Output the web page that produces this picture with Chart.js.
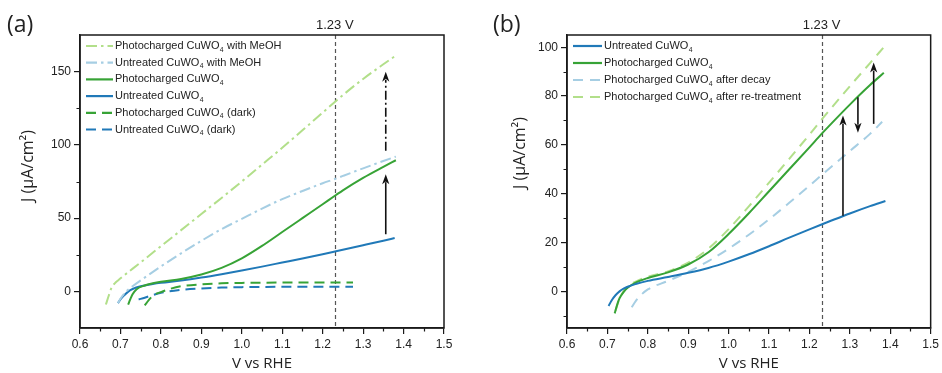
<!DOCTYPE html>
<html><head><meta charset="utf-8">
<script src="https://cdn.jsdelivr.net/npm/chart.js@4/dist/chart.umd.min.js"></script>
<style>
html,body{margin:0;padding:0;background:#fff;}
#wrap{position:relative;width:942px;height:373px;overflow:hidden;}
canvas{position:absolute;top:0;}
#ca{left:0;} #cb{left:471px;}
</style></head><body>
<div id="wrap"><canvas id="ca" width="471" height="373"></canvas><canvas id="cb" width="471" height="373"></canvas></div>
<script>
// ---------- tick labels ----------
const xTicks = [0.6,0.7,0.8,0.9,1.0,1.1,1.2,1.3,1.4,1.5];
const xMinorTicks = [0.65,0.75,0.85,0.95,1.05,1.15,1.25,1.35,1.45];
const yTicksA = [0,50,100,150];
const yMinorTicksA = [25,75,125];
const yTicksB = [0,20,40,60,80,100];
const yMinorTicksB = [-10,10,30,50,70,90];
const refV = 1.23;
const refLabel = '1.23 V';

// ---------- panel (a) ----------
const labelsA = ['Photocharged CuWO₄ with MeOH','Untreated CuWO₄ with MeOH','Photocharged CuWO₄','Untreated CuWO₄','Photocharged CuWO₄ (dark)','Untreated CuWO₄ (dark)'];
const a_pcMeOH_V = [0.664,0.671,0.678,0.686,0.694,0.75,0.80,0.85,0.90,0.95,1.00,1.05,1.10,1.15,1.20,1.233,1.25,1.30,1.35,1.381];
const a_pcMeOH_J = [-9,-3,2.5,5.5,7.5,19.8,30.8,41.8,52.8,63.8,75,86.5,98,110,122,130,134,145,155,161];
const a_unMeOH_V = [0.694,0.70,0.711,0.73,0.75,0.80,0.85,0.90,0.95,1.00,1.05,1.10,1.15,1.20,1.233,1.25,1.30,1.35,1.381];
const a_unMeOH_J = [-8,-5,-1,3.5,7.5,17,26,34.5,42.5,49.5,56.5,63,68.5,73.8,77,78.8,84,89,92];
const a_pc_V = [0.719,0.725,0.73,0.74,0.76,0.78,0.80,0.85,0.90,0.95,1.00,1.05,1.10,1.15,1.20,1.233,1.25,1.30,1.35,1.381];
const a_pc_J = [-9,-5,-2,1.5,4,5.5,6.6,8.5,11.5,16,22.5,31,40.5,50,59.5,65.8,69,77.5,85,89.5];
const a_un_V = [0.694,0.70,0.71,0.72,0.73,0.75,0.78,0.80,0.85,0.90,0.95,1.00,1.05,1.10,1.15,1.20,1.233,1.30,1.35,1.378];
const a_un_J = [-8,-5.5,-2.5,0,1.6,3.5,5,5.8,7.4,9.4,11.7,14.2,16.9,19.7,22.5,25.4,27.4,31.5,34.6,36.4];
const a_pcDark_V = [0.76,0.77,0.78,0.80,0.82,0.85,0.90,0.95,1.00,1.10,1.20,1.275];
const a_pcDark_J = [-9.5,-6,-3,-0.5,1.5,3.5,4.8,5.5,5.8,6,6,6];
const a_unDark_V = [0.745,0.76,0.78,0.80,0.85,0.90,0.95,1.00,1.10,1.20,1.275];
const a_unDark_J = [-5.5,-4.3,-2.5,-1,1,2,2.6,2.9,3.1,3.2,3.2];
const arrowA_V = [1.356,1.356];
const arrowA_from = [39,96];
const arrowA_to = [80,150];

// ---------- panel (b) ----------
const labelsB = ['Untreated CuWO₄','Photocharged CuWO₄','Photocharged CuWO₄ after decay','Photocharged CuWO₄ after re-treatment'];
const b_un_V = [0.703,0.71,0.72,0.73,0.74,0.75,0.77,0.80,0.85,0.90,0.95,1.00,1.05,1.10,1.15,1.20,1.23,1.25,1.30,1.35,1.388];
const b_un_J = [-6,-3.8,-1.6,0,1.1,1.9,3,4.3,5.9,7.6,9.6,12.2,15.2,18.5,22,25.4,27.4,28.7,31.9,34.9,37];
const b_pc_V = [0.718,0.725,0.73,0.74,0.75,0.77,0.80,0.85,0.90,0.95,1.00,1.05,1.10,1.15,1.20,1.23,1.25,1.30,1.35,1.384];
const b_pc_J = [-9,-5,-2.8,-0.3,1.5,3.6,5.5,7.8,11,16,23.5,32,41,50,59,64.5,68,76.5,84.5,89.5];
const b_decay_V = [0.76,0.77,0.78,0.80,0.85,0.90,0.95,1.00,1.05,1.10,1.15,1.20,1.23,1.30,1.35,1.38];
const b_decay_J = [-6.5,-4,-2,0.8,4.3,8,12.4,17.5,23.2,29.5,36.3,43.3,47.6,57.5,64.5,69.5];
const b_retr_V = [0.72,0.73,0.74,0.75,0.77,0.80,0.85,0.90,0.95,1.00,1.05,1.10,1.15,1.20,1.23,1.30,1.35,1.384];
const b_retr_J = [-8,-3,0,2,4,6,8.2,11.8,17.5,25.5,34.8,44.5,54.3,64.2,70.3,84,93.5,100];
const arrowB_V = [1.283,1.32,1.359];
const arrowB_from = [31,79.5,68.6];
const arrowB_to = [72,65,93.7];

// ---------- styles ----------
const C = {lgreen:'#b2df8a', lblue:'#a6cee3', green:'#37a336', blue:'#2079b8', axis:'#1a1a1a', text:'#222'};
const TICKFONT = '"Liberation Sans", Arial, sans-serif';
const TITLEFONT = '"Open Sans", "Noto Sans", sans-serif';
const DASHDOT = [11,4,2.5,4];
const DASH_A = [10,6];
const DASH_B = [10,7];

function pts(v,j){ return v.map((x,i)=>({x:x,y:j[i]})); }

function drawRich(ctx, text, x, y, size){
  const parts = text.split('₄');
  let cx = x;
  ctx.textBaseline = 'middle';
  ctx.textAlign = 'left';
  parts.forEach((p,i)=>{
    ctx.font = size + 'px ' + TICKFONT;
    ctx.fillText(p, cx, y);
    cx += ctx.measureText(p).width;
    if (i < parts.length-1){
      ctx.font = (size*0.62).toFixed(1) + 'px ' + TICKFONT;
      ctx.fillText('4', cx+0.3, y + size*0.33);
      cx += ctx.measureText('4').width + 0.6;
    }
  });
}

function arrow(ctx, x, y1, y2, dash){
  const dir = y2 < y1 ? -1 : 1;
  const head = 10, hw = 3.6;
  ctx.save();
  ctx.strokeStyle = '#111'; ctx.fillStyle = '#111'; ctx.lineWidth = 1.6;
  ctx.setLineDash(dash);
  ctx.beginPath(); ctx.moveTo(x, y1); ctx.lineTo(x, y2 - dir*head*0.8); ctx.stroke();
  ctx.setLineDash([]);
  ctx.beginPath(); ctx.moveTo(x, y2); ctx.lineTo(x-hw, y2 - dir*head); ctx.lineTo(x, y2 - dir*head*0.72); ctx.lineTo(x+hw, y2 - dir*head); ctx.closePath(); ctx.fill();
  ctx.restore();
}

function decoPlugin(cfg){
  return {
    id: 'deco'+cfg.tag,
    beforeDatasetsDraw(chart){
      const ctx = chart.ctx, a = chart.chartArea, xs = chart.scales.x;
      const px = Math.round(xs.getPixelForValue(refV)) + 0.5;
      ctx.save();
      ctx.strokeStyle = '#555'; ctx.lineWidth = 1.2; ctx.setLineDash([4,3]);
      ctx.beginPath(); ctx.moveTo(px, a.top); ctx.lineTo(px, a.bottom); ctx.stroke();
      ctx.restore();
    },
    afterDraw(chart){
      const ctx = chart.ctx, a = chart.chartArea, xs = chart.scales.x, ys = chart.scales.y;
      ctx.save();
      ctx.strokeStyle = C.axis; ctx.lineWidth = 1.5;
      ctx.strokeRect(a.left, a.top, a.right-a.left, a.bottom-a.top);
      ctx.lineWidth = 1.2;
      ctx.beginPath();
      xMinorTicks.forEach(v=>{ const p = Math.round(xs.getPixelForValue(v))+0.5; ctx.moveTo(p, a.bottom); ctx.lineTo(p, a.bottom+3.5); });
      cfg.yMinor.forEach(v=>{ const p = Math.round(ys.getPixelForValue(v))+0.5; ctx.moveTo(a.left-3.5, p); ctx.lineTo(a.left, p); });
      ctx.stroke();
      ctx.fillStyle = C.text; ctx.font = '13px ' + TICKFONT; ctx.textAlign = 'center'; ctx.textBaseline = 'middle';
      ctx.fillText(refLabel, xs.getPixelForValue(refV), a.top - 10);
      ctx.font = '23px ' + TITLEFONT; ctx.textAlign = 'left';
      ctx.fillText(cfg.panel, cfg.panelX, 25);
      ctx.font = '15px ' + TITLEFONT; ctx.textAlign = 'center';
      ctx.fillText('V vs RHE', (a.left+a.right)/2, 364);
      ctx.save();
      ctx.font = '16px ' + TITLEFONT;
      ctx.translate(cfg.yTitleX, cfg.yTitleY); ctx.rotate(-Math.PI/2);
      ctx.fillText('J (μA/cm²)', 0, 0);
      ctx.restore();
      cfg.arrows.v.forEach((v,i)=>{
        const x = xs.getPixelForValue(v);
        arrow(ctx, x, ys.getPixelForValue(cfg.arrows.from[i]), ys.getPixelForValue(cfg.arrows.to[i]), cfg.arrows.dash[i]);
      });
      const lx = a.left + 6, ly = a.top + 11;
      chart.data.datasets.forEach((d,i)=>{
        const y = ly + i*cfg.legendGap;
        ctx.save();
        ctx.strokeStyle = d.borderColor; ctx.lineWidth = 2.2; ctx.setLineDash(d.borderDash || []);
        ctx.beginPath(); ctx.moveTo(lx, y); ctx.lineTo(lx + cfg.sampleLen, y); ctx.stroke();
        ctx.restore();
        ctx.fillStyle = C.text;
        drawRich(ctx, d.label, lx + cfg.sampleLen + 2, y, cfg.legendFont);
      });
      ctx.restore();
    }
  };
}

function makeChart(id, cfg){
  const datasets = cfg.series.map(s=>({
    label: s.label, data: pts(s.v, s.j), borderColor: s.color, borderDash: s.dash,
    borderWidth: 2, pointRadius: 0, fill: false, cubicInterpolationMode: 'monotone', borderCapStyle: 'butt'
  }));
  return new Chart(document.getElementById(id), {
    type: 'line',
    data: {datasets},
    options: {
      responsive: false, animation: false, events: [],
      layout: {padding: {left: 0, right: cfg.padRight, top: 35, bottom: 0}},
      plugins: {legend: {display: false}, tooltip: {enabled: false}},
      scales: {
        x: {type: 'linear', min: 0.6, max: 1.5,
            afterBuildTicks: s=>{ s.ticks = xTicks.map(v=>({value: v})); },
            afterFit: s=>{ s.height = 45; },
            ticks: {callback: v=>Number(v).toFixed(1), font: {family: TICKFONT, size: 12}, color: C.text, padding: 3, maxRotation: 0, autoSkip: false},
            grid: {drawOnChartArea: false, tickLength: 6, color: C.axis, lineWidth: 1.2},
            border: {color: C.axis, width: 1.5}},
        y: {type: 'linear', min: cfg.yMin, max: cfg.yMax,
            afterBuildTicks: s=>{ s.ticks = cfg.yTicks.map(v=>({value: v})); },
            afterFit: s=>{ s.width = cfg.yWidth; },
            ticks: {callback: v=>String(v), font: {family: TICKFONT, size: 12}, color: C.text, padding: 3, autoSkip: false},
            grid: {drawOnChartArea: false, tickLength: 6, color: C.axis, lineWidth: 1.2},
            border: {color: C.axis, width: 1.5}}
      }
    },
    plugins: [decoPlugin(cfg)]
  });
}

makeChart('ca', {
  tag: 'a', panel: '(a)', panelX: 7, yTitleX: 28, yTitleY: 166,
  padRight: 27, yWidth: 80, yMin: -25, yMax: 175, yTicks: yTicksA, yMinor: yMinorTicksA,
  legendGap: 16.7, sampleLen: 27, legendFont: 11,
  arrows: {v: arrowA_V, from: arrowA_from, to: arrowA_to, dash: [[], [9,3,2,3]]},
  series: [
    {label: labelsA[0], v: a_pcMeOH_V, j: a_pcMeOH_J, color: C.lgreen, dash: DASHDOT},
    {label: labelsA[1], v: a_unMeOH_V, j: a_unMeOH_J, color: C.lblue, dash: DASHDOT},
    {label: labelsA[2], v: a_pc_V, j: a_pc_J, color: C.green, dash: []},
    {label: labelsA[3], v: a_un_V, j: a_un_J, color: C.blue, dash: []},
    {label: labelsA[4], v: a_pcDark_V, j: a_pcDark_J, color: C.green, dash: DASH_A},
    {label: labelsA[5], v: a_unDark_V, j: a_unDark_J, color: C.blue, dash: DASH_A}
  ]
});

makeChart('cb', {
  tag: 'b', panel: '(b)', panelX: 22, yTitleX: 49, yTitleY: 153,
  padRight: 10, yWidth: 96, yMin: -15, yMax: 105, yTicks: yTicksB, yMinor: yMinorTicksB,
  legendGap: 17, sampleLen: 29, legendFont: 11,
  arrows: {v: arrowB_V, from: arrowB_from, to: arrowB_to, dash: [[], [], []]},
  series: [
    {label: labelsB[0], v: b_un_V, j: b_un_J, color: C.blue, dash: []},
    {label: labelsB[1], v: b_pc_V, j: b_pc_J, color: C.green, dash: []},
    {label: labelsB[2], v: b_decay_V, j: b_decay_J, color: C.lblue, dash: DASH_B},
    {label: labelsB[3], v: b_retr_V, j: b_retr_J, color: C.lgreen, dash: DASH_B}
  ]
});
</script>
</body></html>
